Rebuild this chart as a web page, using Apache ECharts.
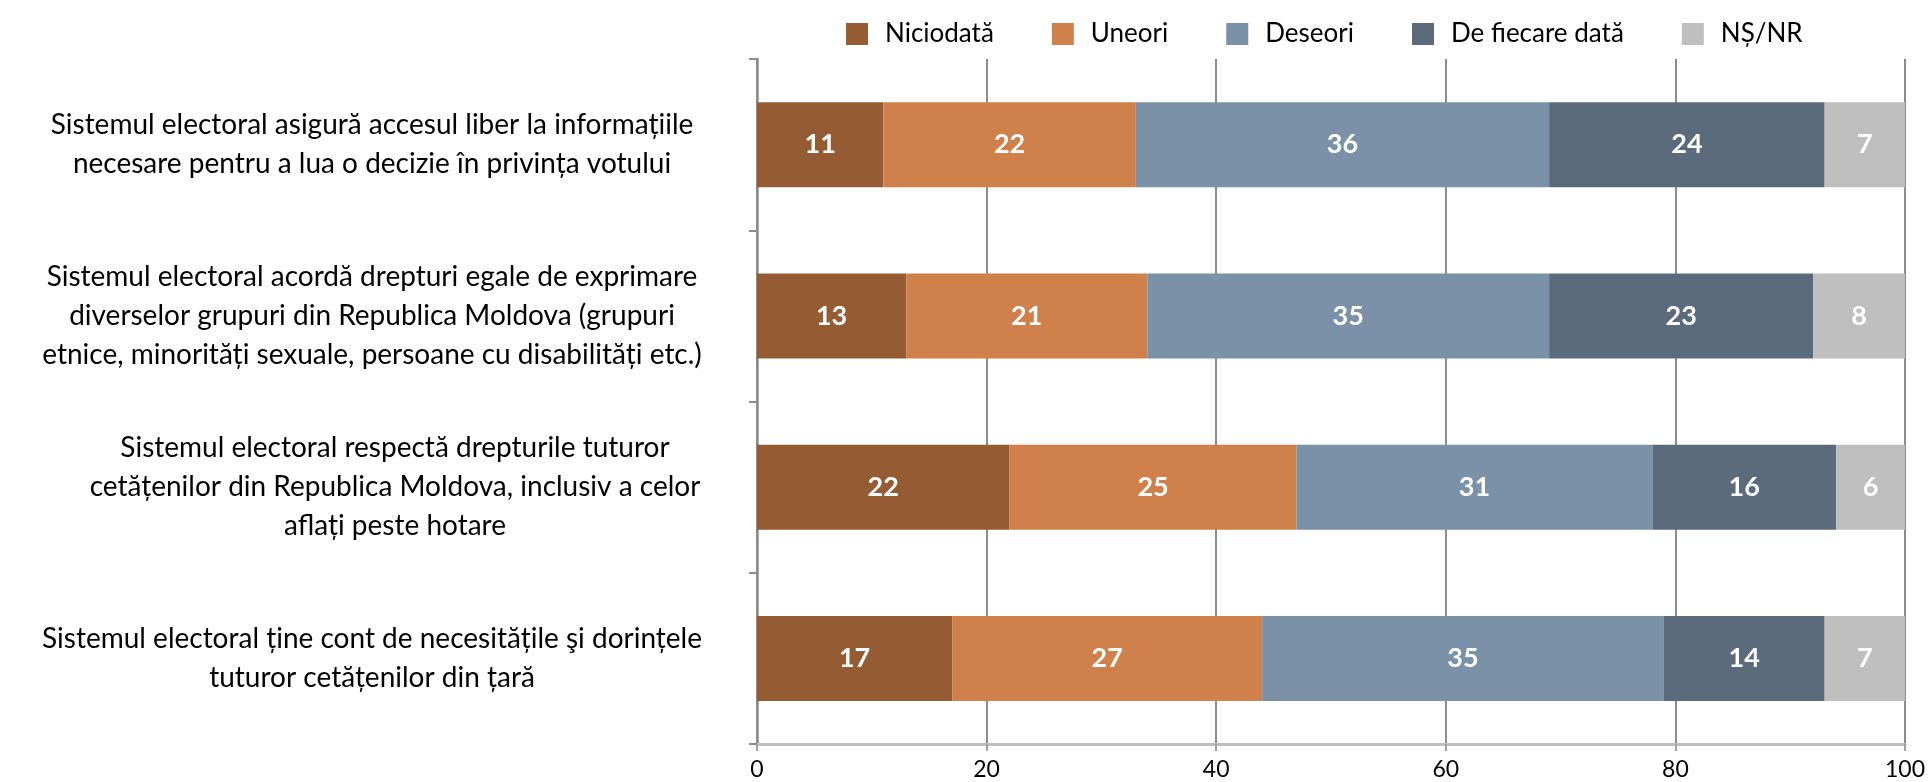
<!DOCTYPE html>
<html>
<head>
<meta charset="utf-8">
<script src="https://cdn.jsdelivr.net/npm/echarts@6/dist/echarts.min.js"></script>
<style>
  html, body { margin: 0; padding: 0; background: #fff; }
  #chart { width: 1932px; height: 782px; }
</style>
</head>
<body>
<div id="chart"></div>
<script>
const categories = [
  'Sistemul electoral asigură accesul liber la informațiile\nnecesare pentru a lua o decizie în privința votului',
  'Sistemul electoral acordă drepturi egale de exprimare\ndiverselor grupuri din Republica Moldova (grupuri\netnice, minorități sexuale, persoane cu disabilități etc.)',
  'Sistemul electoral respectă drepturile tuturor\ncetățenilor din Republica Moldova, inclusiv a celor\naflați peste hotare',
  'Sistemul electoral ține cont de necesitățile şi dorințele\ntuturor cetățenilor din țară'
]
const seriesNames = ['Niciodată', 'Uneori', 'Deseori', 'De fiecare dată', 'NȘ/NR']
const niciodata = [11, 13, 22, 17]
const uneori = [22, 21, 25, 27]
const deseori = [36, 35, 31, 35]
const deFiecareData = [24, 23, 16, 14]
const nsnr = [7, 8, 6, 7]
const xTicks = [0, 20, 40, 60, 80, 100]

const colors = ['#955b32', '#d0804a', '#7a91a8', '#5b6b7c', '#bfbfbf']
const values = [niciodata, uneori, deseori, deFiecareData, nsnr]
const font = 'Lato, "Noto Sans", sans-serif'

const chart = echarts.init(document.getElementById('chart'))

const option = {
  animation: false,
  textStyle: { fontFamily: font },
  legend: {
    left: 841,
    top: 16,
    icon: 'rect',
    itemWidth: 22,
    itemHeight: 22,
    itemGap: 58,
    textStyle: { fontSize: 26, color: '#000', padding: [0, 0, 0, 12] },
    data: seriesNames
  },
  grid: { left: 757, right: 27, top: 59, bottom: 38, containLabel: false },
  xAxis: {
    type: 'value',
    min: xTicks[0],
    max: xTicks[xTicks.length - 1],
    interval: 20,
    axisLine: { show: true, lineStyle: { color: '#bfbfbf', width: 3 } },
    axisTick: { show: true, length: 7, lineStyle: { color: '#a0a0a0', width: 2 } },
    axisLabel: { fontSize: 23, color: '#000', margin: 14 },
    splitLine: { show: true, lineStyle: { color: '#8c8c8c', width: 2 } }
  },
  yAxis: {
    type: 'category',
    inverse: true,
    data: categories,
    axisLine: { show: true, lineStyle: { color: '#8c8c8c', width: 2.5 } },
    axisTick: { show: true, length: 8, lineStyle: { color: '#8c8c8c', width: 2 } },
    axisLabel: {
      fontSize: 28,
      lineHeight: 39,
      color: '#000',
      align: 'center',
      margin: 385,
      // third label sits a bit to the right in the original
      formatter: (v, i) => i === 2 ? '{s|' + v.split('\n').join('}\n{s|') + '}' : v,
      rich: { s: { fontSize: 28, lineHeight: 39, color: '#000', padding: [0, 0, 0, 46] } }
    }
  },
  series: seriesNames.map((name, i) => ({
    name,
    type: 'bar',
    stack: 'total',
    barWidth: 85,
    data: values[i],
    itemStyle: { color: colors[i] },
    label: {
      show: true,
      position: 'inside',
      color: '#fff',
      fontSize: 27,
      fontWeight: 'bold'
    }
  }))
}
chart.setOption(option)
</script>
</body>
</html>
